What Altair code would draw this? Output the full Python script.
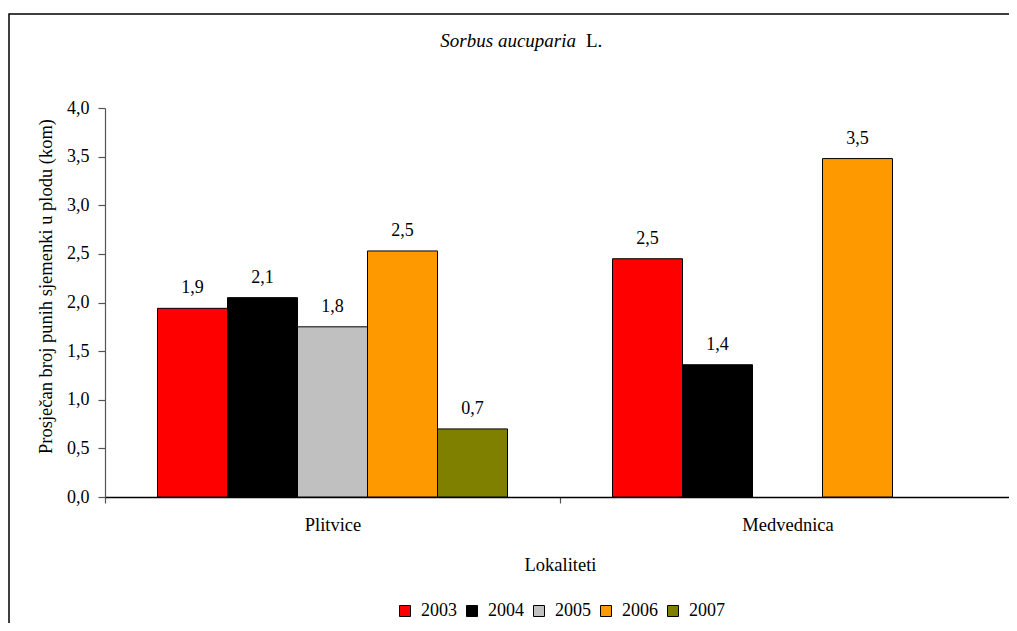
import altair as alt
import pandas as pd

years = ["2003", "2004", "2005", "2006", "2007"]
locations = ["Plitvice", "Medvednica"]
plitvice_values = [1.94, 2.05, 1.75, 2.53, 0.70]
plitvice_labels = ["1,9", "2,1", "1,8", "2,5", "0,7"]
medvednica_values = [2.45, 1.36, None, 3.48, None]
medvednica_labels = ["2,5", "1,4", None, "3,5", None]
colors = ["#FF0000", "#000000", "#C0C0C0", "#FF9900", "#808000"]

rows = []
for loc, vals, labs in [("Plitvice", plitvice_values, plitvice_labels),
                        ("Medvednica", medvednica_values, medvednica_labels)]:
    for y, v, l in zip(years, vals, labs):
        if v is not None:
            rows.append({"Lokalitet": loc, "Godina": y, "Vrijednost": v, "Oznaka": l})
df = pd.DataFrame(rows)

FONT = "Liberation Serif, Times New Roman, serif"

x_enc = alt.X("Lokalitet:N", sort=locations,
              scale=alt.Scale(paddingInner=0, paddingOuter=0),
              axis=alt.Axis(title="Lokaliteti", labelAngle=0, tickBand="extent",
                            domainColor="#000000", domainWidth=1.5,
                            tickColor="#555555", tickSize=6, tickWidth=1.2,
                            labelFontSize=18.5, labelPadding=12, labelColor="#000000",
                            labelFont=FONT, titleFont=FONT,
                            titleFontSize=18.5, titleFontWeight="normal", titleColor="#000000",
                            titleY=73, titleBaseline="alphabetic"))
xo_enc = alt.XOffset("Godina:N", scale=alt.Scale(domain=years, paddingInner=0, paddingOuter=0.75))
y_enc = alt.Y("Vrijednost:Q",
              scale=alt.Scale(domain=[0, 4], nice=False),
              axis=alt.Axis(title="Prosječan broj punih sjemenki u plodu (kom)",
                            values=[0, 0.5, 1, 1.5, 2, 2.5, 3, 3.5, 4],
                            labelExpr="replace(format(datum.value, '.1f'), '.', ',')",
                            grid=False, domainColor="#555555", domainWidth=1.2,
                            tickColor="#555555", tickSize=7, tickWidth=1.2,
                            labelFontSize=18, labelPadding=9, labelColor="#000000",
                            labelFont=FONT, titleFont=FONT,
                            titleFontSize=18.5, titleFontWeight="normal", titleColor="#000000",
                            titleX=-60, titleY=178, titleAlign="center",
                            titleBaseline="middle", titleAngle=270))

bars = alt.Chart(df).mark_bar(stroke="#000000", strokeWidth=1).encode(
    x=x_enc, xOffset=xo_enc, y=y_enc,
    fill=alt.Fill("Godina:N", scale=alt.Scale(domain=years, range=colors),
                  legend=alt.Legend(title=None, orient="none", direction="horizontal",
                                    legendX=291, legendY=494, symbolType="square",
                                    symbolSize=121, symbolStrokeColor="#000000",
                                    symbolStrokeWidth=1, labelFontSize=18, labelFont=FONT,
                                    labelColor="#000000", columnPadding=6, labelOffset=7)),
)

labels = alt.Chart(df).mark_text(fontSize=18, font=FONT, baseline="alphabetic", dy=-15,
                                 color="#000000").encode(
    x=alt.X("Lokalitet:N", sort=locations), xOffset=alt.XOffset("Godina:N"),
    y="Vrijednost:Q", text="Oznaka:N")

one = alt.Data(values=[{}])
border = alt.Chart(one).mark_rect(fill=None, stroke="#000000", strokeWidth=1.5).encode(
    x=alt.value(-96), x2=alt.value(930), y=alt.value(-94), y2=alt.value(540))

title_it = alt.Chart(one).mark_text(fontSize=19, font=FONT, fontStyle="italic", align="right",
                                    baseline="alphabetic", color="#000000").encode(
    x=alt.value(471), y=alt.value(-61), text=alt.value("Sorbus aucuparia"))
title_l = alt.Chart(one).mark_text(fontSize=19, font=FONT, align="left",
                                   baseline="alphabetic", color="#000000").encode(
    x=alt.value(481), y=alt.value(-61), text=alt.value("L."))

chart = alt.layer(border, bars, labels, title_it, title_l).properties(
    width=910, height=389,
    autosize=alt.AutoSizeParams(type="none"),
    padding={"left": 97, "top": 100, "right": -6, "bottom": 126},
).configure(font=FONT).configure_view(stroke=None)

chart.save("out.html", embed_options={"renderer": "svg", "actions": False})
